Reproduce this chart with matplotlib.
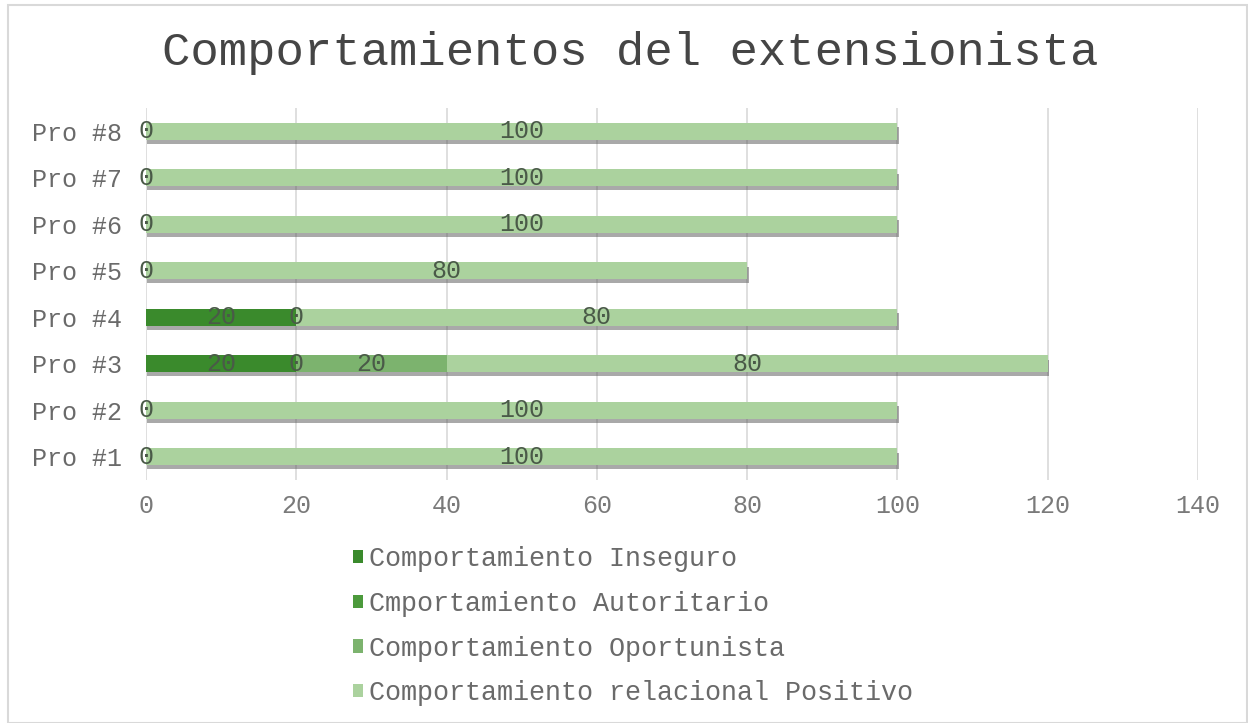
import matplotlib
matplotlib.use("Agg")
import matplotlib.pyplot as plt
import matplotlib.patheffects as pe
from matplotlib.patches import Patch, Rectangle

categories = ["Pro #1", "Pro #2", "Pro #3", "Pro #4", "Pro #5", "Pro #6", "Pro #7", "Pro #8"]
series_names = ["Comportamiento Inseguro", "Cmportamiento Autoritario",
                "Comportamiento Oportunista", "Comportamiento relacional Positivo"]
inseguro = [0, 0, 20, 20, 0, 0, 0, 0]
autoritario = [0, 0, 0, 0, 0, 0, 0, 0]
oportunista = [0, 0, 20, 0, 0, 0, 0, 0]
positivo = [100, 100, 80, 80, 80, 100, 100, 100]
colors = ["#3a8a2c", "#4c9a3c", "#7cb36e", "#abd29e"]
xticks = [0, 20, 40, 60, 80, 100, 120, 140]
title = "Comportamientos del extensionista"

plt.rcParams['font.family'] = ['Liberation Mono', 'DejaVu Sans Mono']

fig = plt.figure(figsize=(12.48, 7.23), dpi=100)
fig.patch.set_facecolor("white")
# outer light border
fig.add_artist(Rectangle((8/1248, 0), 1 - 8/1248 - 1/1248, 1 - 5/723, transform=fig.transFigure,
                         fill=False, edgecolor="#d9d9d9", linewidth=1.5))

ax = fig.add_axes([146/1248, 1 - 480/723, (1198 - 146)/1248, (480 - 108)/723])

series = [inseguro, autoritario, oportunista, positivo]
ypos = list(range(len(categories)))
left = [0] * len(categories)
labelled = set()
shadow = [pe.SimplePatchShadow(offset=(1, -3), shadow_rgbFace="#555555", alpha=0.5), pe.Normal()]
for vals, col, name in zip(series, colors, series_names):
    bars = ax.barh(ypos, vals, left=left, height=0.36, color=col, label=name, zorder=3)
    for b in bars:
        b.set_path_effects(shadow)
    for y, v, l in zip(ypos, vals, left):
        key = (y, l + v / 2, v)
        if key in labelled:
            continue  # identical labels at the same spot coincide
        labelled.add(key)
        ax.text(l + v / 2, y, f"{v}", ha="center", va="center", fontsize=18,
                color="#4a5a48", zorder=5)
    left = [a + b for a, b in zip(left, vals)]

ax.set_xlim(0, 140)
ax.set_ylim(-0.5, len(categories) - 0.5)
ax.set_xticks(xticks)
ax.set_yticks(ypos)
ax.set_yticklabels(categories)
ax.tick_params(axis="both", length=0, labelsize=18, colors="#7a7a7a")
ax.tick_params(axis="y", labelcolor="#6a6a6a", pad=17)
ax.tick_params(axis="x", pad=10)
ax.grid(axis="x", color="#d9d9d9", linewidth=1.2, zorder=0)
ax.set_axisbelow(True)
for s in ax.spines.values():
    s.set_visible(False)

fig.text(630/1248, 1 - 53/723, title, ha="center", va="center", fontsize=34,
         color="#454545")

handles = [Patch(facecolor=c, edgecolor="none") for c in colors]
fig.legend(handles, series_names, loc="upper left", bbox_to_anchor=(329/1248, 1 - 522/723),
           frameon=False, ncol=1, fontsize=19.3, labelspacing=0.7, handlelength=0.38,
           handleheight=0.38, handletextpad=0.2, labelcolor="#6a6a6a")

fig.savefig("out.png", dpi=100)
